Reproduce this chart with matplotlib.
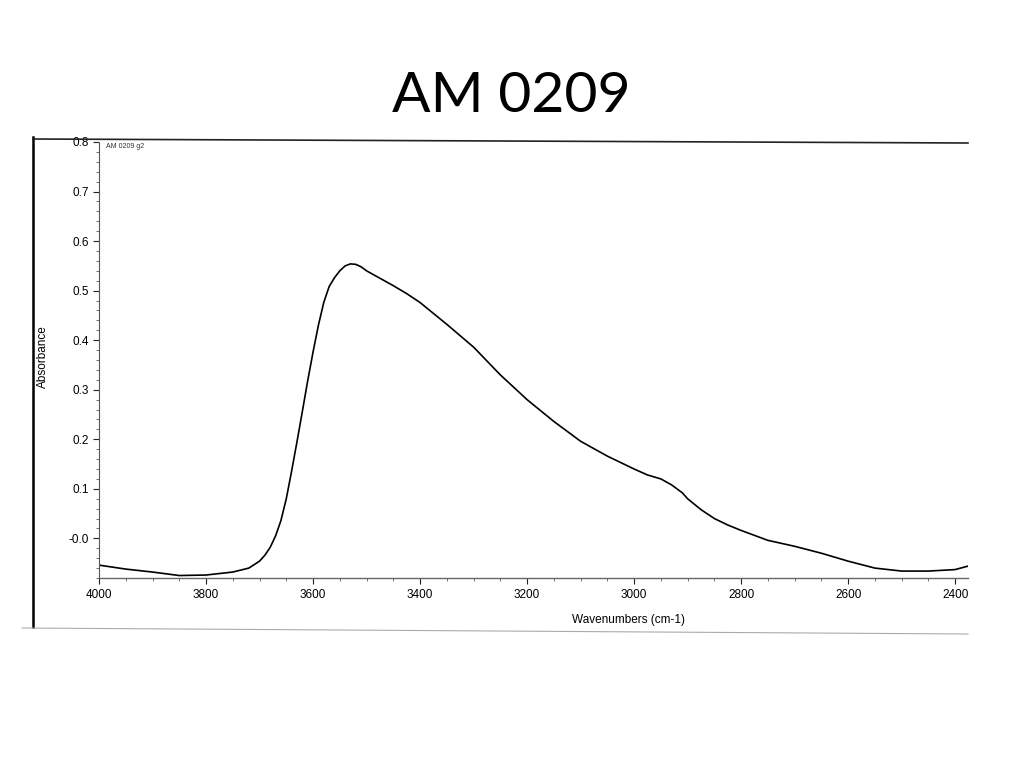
import matplotlib
matplotlib.use("Agg")
import matplotlib.pyplot as plt
from matplotlib.ticker import MultipleLocator, FixedLocator
from matplotlib.lines import Line2D

title = "AM 0209"
inner_label = "AM 0209 g2"
x_label = "Wavenumbers (cm-1)"
y_label = "Absorbance"

wavenumbers = [4000, 3950, 3900, 3850, 3800, 3750, 3720, 3700, 3690, 3680, 3670,
               3660, 3650, 3640, 3630, 3620, 3610, 3600, 3590, 3580, 3570, 3560,
               3550, 3540, 3530, 3520, 3510, 3500, 3475, 3450, 3425, 3400, 3350,
               3300, 3250, 3200, 3150, 3100, 3050, 3000, 2975, 2950, 2930, 2910,
               2900, 2875, 2850, 2825, 2800, 2750, 2700, 2650, 2600, 2550, 2500,
               2450, 2400, 2376]
absorbance = [-0.054, -0.062, -0.068, -0.075, -0.074, -0.068, -0.060, -0.046,
              -0.034, -0.018, 0.005, 0.036, 0.080, 0.136, 0.195, 0.256, 0.318,
              0.376, 0.430, 0.476, 0.508, 0.526, 0.540, 0.550, 0.554, 0.553,
              0.548, 0.540, 0.525, 0.510, 0.494, 0.476, 0.432, 0.386, 0.330,
              0.280, 0.236, 0.196, 0.166, 0.140, 0.128, 0.120, 0.108, 0.092,
              0.080, 0.058, 0.040, 0.027, 0.016, -0.004, -0.016, -0.030, -0.046,
              -0.060, -0.066, -0.066, -0.063, -0.056]

x_ticks = [4000, 3800, 3600, 3400, 3200, 3000, 2800, 2600, 2400]
y_ticks = [0.0, 0.1, 0.2, 0.3, 0.4, 0.5, 0.6, 0.7, 0.8]
y_tick_labels = ["-0.0", "0.1", "0.2", "0.3", "0.4", "0.5", "0.6", "0.7", "0.8"]

fig = plt.figure(figsize=(10.24, 7.68), dpi=100)
fig.patch.set_facecolor("white")

W, H = 1024, 768
def fx(px): return px / W
def fy(py): return 1 - py / H

ax = fig.add_axes([fx(99), fy(578), fx(968) - fx(99), fy(142) - fy(578)])
ax.plot(wavenumbers, absorbance, color="black", lw=1.2)
ax.set_xlim(4000, 2376)
ax.set_ylim(-0.08, 0.8)

for s in ["top", "right"]:
    ax.spines[s].set_visible(False)
ax.spines["left"].set_linewidth(0.8)
ax.spines["left"].set_color("#555555")
ax.spines["left"].set_linestyle((0, (2, 1)))
ax.spines["bottom"].set_linewidth(1.0)
ax.spines["bottom"].set_color("#666666")

ax.xaxis.set_major_locator(FixedLocator(x_ticks))
ax.xaxis.set_minor_locator(MultipleLocator(50))
ax.yaxis.set_major_locator(FixedLocator(y_ticks))
ax.set_yticklabels(y_tick_labels)
ax.yaxis.set_minor_locator(MultipleLocator(0.02))
ax.tick_params(axis="both", which="major", labelsize=8.5, length=4, width=0.8,
               colors="#222222", labelcolor="black", direction="out")
ax.tick_params(axis="both", which="minor", length=2, width=0.6, colors="#555555")
ax.tick_params(axis="x", pad=4)

fig.text(fx(628), fy(620), x_label, ha="center", va="center", fontsize=8.5,
         family="Liberation Sans")
fig.text(fx(43), fy(357), y_label, ha="center", va="center", fontsize=8.5,
         rotation=90, family="Liberation Sans")
for lab in ax.get_xticklabels() + ax.get_yticklabels():
    lab.set_family("Liberation Sans")

ax.text(fx(106), fy(147), inner_label, transform=fig.transFigure, fontsize=5,
        ha="left", va="center", color="#333333", family="Liberation Sans")

fig.text(fx(511), fy(97), title, ha="center", va="center", fontsize=41,
         family="Lato")

# outer scanned frame
fig.add_artist(Line2D([fx(33), fx(33)], [fy(137), fy(627)], color="black", lw=1.8,
                      transform=fig.transFigure))
fig.add_artist(Line2D([fx(33), fx(968)], [fy(139), fy(143)], color="#222222", lw=1.2,
                      transform=fig.transFigure))
fig.add_artist(Line2D([fx(22), fx(968)], [fy(628), fy(634)], color="#aaaaaa", lw=0.8,
                      transform=fig.transFigure))

fig.savefig("out.png", dpi=100)
